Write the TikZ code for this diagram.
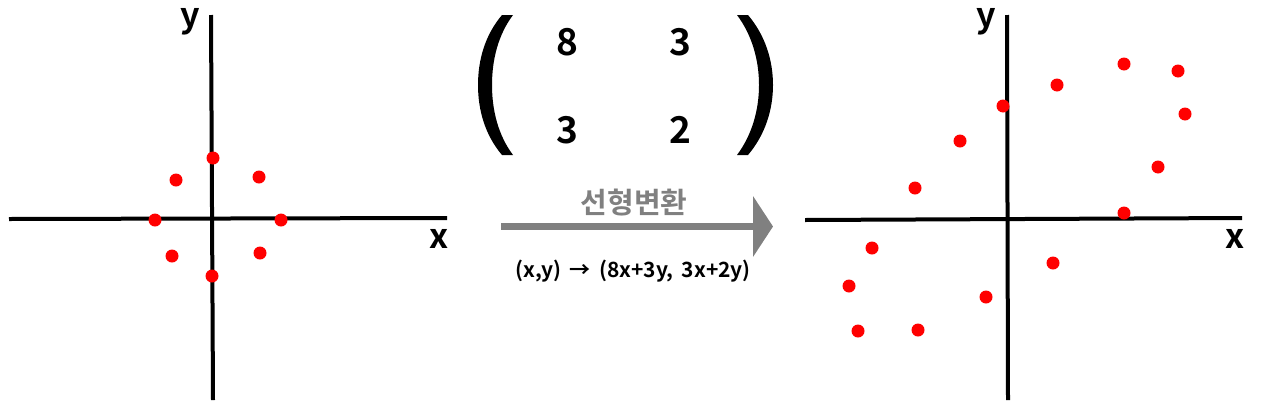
\documentclass[tikz,border=0pt]{standalone}
\usepackage{fontspec}
\setmainfont{Noto Sans CJK KR}[BoldFont={Noto Sans CJK KR Bold}]
\usetikzlibrary{arrows.meta}
\definecolor{arrowgray}{RGB}{128,128,128}
\tikzset{
  axis/.style={line width=4pt},
  dot/.style={circle,fill=red,inner sep=0pt,minimum size=13pt},
  axlabel/.style={font=\fontsize{34}{34}\selectfont\bfseries,inner sep=0pt},
  entry/.style={font=\fontsize{37}{37}\selectfont\bfseries,inner sep=0pt},
  paren/.style={fill=black},
}
\begin{document}
\begin{tikzpicture}[x=1pt,y=-1pt]
\useasboundingbox (0,0) rectangle (1266,413);
% ---------- left axes ----------
\coordinate (lxa) at (9,219);
\coordinate (lxb) at (447,218);
\coordinate (lya) at (211,15);
\coordinate (lyb) at (213,400);
\draw[axis] (lxa) -- (lxb);
\draw[axis] (lya) -- (lyb);
\node[axlabel] (ly) at (190,22) {y};
\node[axlabel] (lx) at (439,239) {x};
\foreach \n/\x/\y in {1/213/158,2/176/180,3/259/177,4/155/220,5/281/220,6/172/256,7/260/253,8/212/276}
  \node[dot] (l\n) at (\x,\y) {};
% ---------- right axes ----------
\coordinate (rxa) at (805,220);
\coordinate (rxb) at (1242,218);
\coordinate (rya) at (1007,15);
\coordinate (ryb) at (1008,400);
\draw[axis] (rxa) -- (rxb);
\draw[axis] (rya) -- (ryb);
\node[axlabel] (ry) at (986,22) {y};
\node[axlabel] (rx) at (1235,239) {x};
\foreach \n/\x/\y in {1/1124/64,2/1178/71,3/1057/85,4/1003/106,5/1185/114,6/960/141,7/1158/167,8/915/188,9/1124/213,10/872/248,11/1053/263,12/849/286,13/986/297,14/858/331,15/918/330}
  \node[dot] (r\n) at (\x,\y) {};
% ---------- matrix ----------
\fill[paren] (502,15) .. controls (485,35) and (478,60) .. (478,85)
  .. controls (478,110) and (485,135) .. (502,155) -- (513,155)
  .. controls (498,135) and (492,110) .. (492,85)
  .. controls (492,60) and (498,35) .. (513,15) -- cycle;
\fill[paren] (748,15) .. controls (765,35) and (773,60) .. (773,85)
  .. controls (773,110) and (765,135) .. (748,155) -- (737,155)
  .. controls (752,135) and (759,110) .. (759,85)
  .. controls (759,60) and (752,35) .. (737,15) -- cycle;
\node[entry] (m11) at (567,42) {8};
\node[entry] (m12) at (680,42) {3};
\node[entry] (m21) at (567,130) {3};
\node[entry] (m22) at (680,130) {2};
% ---------- arrow ----------
\coordinate (as) at (501,226.5);
\coordinate (ae) at (773,226.5);
\draw[arrowgray,line width=7pt,-{Triangle[length=20pt,width=60pt]}] (as) -- (ae);
\node[text=arrowgray,font=\fontsize{29}{29}\selectfont\bfseries,inner sep=0pt] (title) at (634,203) {선형변환};
\node[font=\fontsize{21}{21}\selectfont\bfseries,inner sep=0pt] (formula) at (633,271) {(x,y)\, → \,(8x+3y,\, 3x+2y)};
\end{tikzpicture}
\end{document}
